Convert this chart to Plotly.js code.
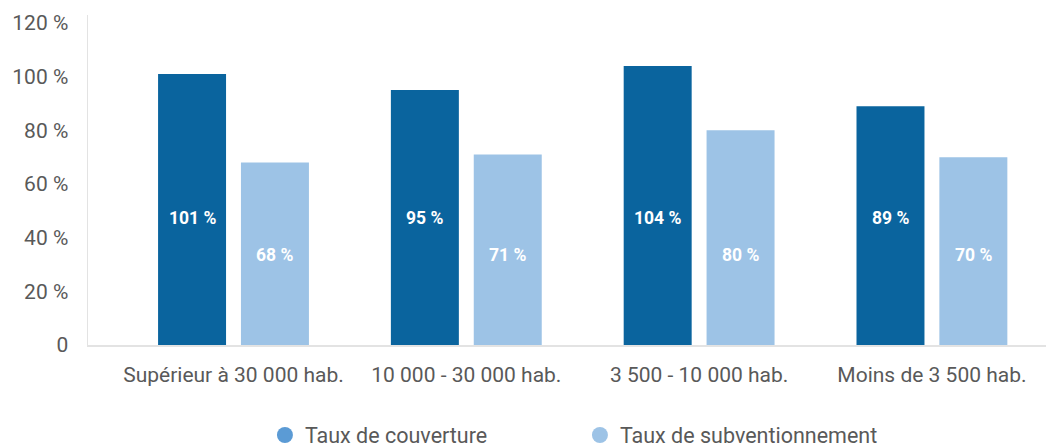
<!DOCTYPE html>
<html>
<head>
<meta charset="utf-8">
<script src="https://cdn.plot.ly/plotly-3.0.1.min.js"></script>
<style>html,body{margin:0;padding:0;background:#fff;}#chart{width:1046px;height:448px;}</style>
</head>
<body>
<div id="chart"></div>
<script>
var categories = ["Supérieur à 30 000 hab.", "10 000 - 30 000 hab.", "3 500 - 10 000 hab.", "Moins de 3 500 hab."];
var couverture = [101, 95, 104, 89];
var subvention = [68, 71, 80, 70];
var seriesNames = ["Taux de couverture", "Taux de subventionnement"];
var yTickVals = [0, 20, 40, 60, 80, 100, 120];
var yTickText = ["0", "20 %", "40 %", "60 %", "80 %", "100 %", "120 %"];

var darkBar = "#0A649E", lightBar = "#9DC3E6", legendDark = "#5B9BD5";
var barW = 0.292, barGapHalf = 0.032;
var labelYDark = 47.3, labelYLight = 33.5;

var idx = categories.map(function(_, i){ return i; });

var traces = [
  {type:"bar", x: idx, y: couverture, width: barW, offset: -barGapHalf - barW,
   marker:{color: darkBar}, showlegend:false, hoverinfo:"y"},
  {type:"bar", x: idx, y: subvention, width: barW, offset: barGapHalf,
   marker:{color: lightBar}, showlegend:false, hoverinfo:"y"},
  {type:"scatter", mode:"markers", x:[null], y:[null], name: seriesNames[0],
   marker:{color: legendDark, size: 16, symbol:"circle"}},
  {type:"scatter", mode:"markers", x:[null], y:[null], name: seriesNames[1],
   marker:{color: lightBar, size: 16, symbol:"circle"}}
];

var annotations = [];
idx.forEach(function(i){
  annotations.push({x: i - barGapHalf - barW/2, y: labelYDark, xref:"x", yref:"y",
    text: couverture[i] + " %", showarrow:false,
    font:{family:"Roboto, sans-serif", size:17.5, color:"#fff", weight:"bold"}});
  annotations.push({x: i + barGapHalf + barW/2, y: labelYLight, xref:"x", yref:"y",
    text: subvention[i] + " %", showarrow:false,
    font:{family:"Roboto, sans-serif", size:17.5, color:"#fff", weight:"bold"}});
});

var layout = {
  width:1046, height:448,
  margin:{l:88, r:0, t:15, b:103, autoexpand:false},
  paper_bgcolor:"#fff", plot_bgcolor:"#fff",
  font:{family:"Roboto, sans-serif", color:"#595959"},
  xaxis:{
    range:[-0.625, 3.49], tickvals: idx, ticktext: categories,
    showgrid:false, zeroline:false, showline:true, linecolor:"#e3e3e3", linewidth:2,
    ticks:"", ticklabelstandoff: 10, tickfont:{size:21, color:"#595959"}, fixedrange:true,
    automargin:false
  },
  yaxis:{
    range:[0, 123], tickvals: yTickVals, ticktext: yTickText,
    showgrid:false, zeroline:false, showline:true, linecolor:"#e3e3e3", linewidth:1.5,
    ticks:"", ticklabelstandoff: 14, tickfont:{size:21, color:"#595959"}, fixedrange:true,
    automargin:false
  },
  showlegend:true,
  legend:{orientation:"h", x:0.5135, xanchor:"center", yref:"container", y:0.029, yanchor:"middle",
    font:{size:21.5, color:"#595959"}, itemsizing:"trace", traceorder:"normal",
    itemwidth:30, entrywidth:270},
  annotations: annotations
};

Plotly.newPlot("chart", traces, layout, {displayModeBar:false, staticPlot:true});
</script>
</body>
</html>
